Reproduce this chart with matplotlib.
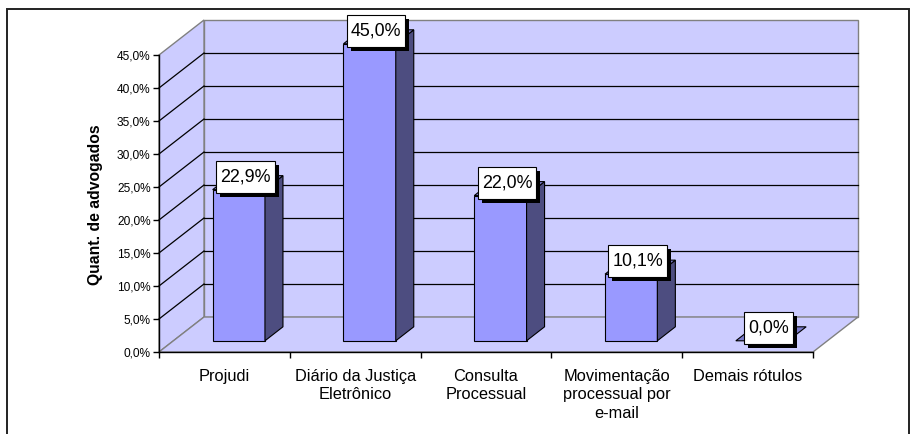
#!/usr/bin/env python3
"""
3D-style bar chart: quant. de advogados por serviço
"""
import matplotlib
matplotlib.use('Agg')
import matplotlib.pyplot as plt
import matplotlib.patches as mpatches
import matplotlib.transforms as mtransforms
import numpy as np

categories = ['Projudi', 'Diário da Justiça\nEletrônico', 'Consulta\nProcessual',
              'Movimentação\nprocessual por\ne-mail', 'Demais rótulos']
values = [22.9, 45.0, 22.0, 10.1, 0.0]
value_labels = ['22,9%', '45,0%', '22,0%', '10,1%', '0,0%']
y_ticks = [0, 5, 10, 15, 20, 25, 30, 35, 40, 45]
y_tick_labels = ['0,0%', '5,0%', '10,0%', '15,0%', '20,0%', '25,0%',
                 '30,0%', '35,0%', '40,0%', '45,0%']
y_title = 'Quant. de advogados'

W, H = 913, 434
DX, DY = 45.0, 35.0          # depth offset in pixels
BAR_D0, BAR_D1 = 0.32, 0.72  # bar depth span
WALL = '#CCCCFF'
EDGE = '#808080'
IDT = mtransforms.IdentityTransform()

plt.rcParams['font.family'] = ['Liberation Sans', 'DejaVu Sans']

fig = plt.figure(figsize=(W / 100, H / 100), dpi=100)
ax = fig.add_axes([159 / W, 82 / H, 654 / W, 297 / H])
ax.set_xlim(0, len(categories))
ax.set_ylim(0, 45)
ax.patch.set_visible(False)
for s in ['top', 'right']:
    ax.spines[s].set_visible(False)
for s in ['left', 'bottom']:
    ax.spines[s].set_color('black')
    ax.spines[s].set_linewidth(1)
    ax.spines[s].set_zorder(4)


def proj(x, y, d):
    px, py = ax.transData.transform((x, y))
    return (px + d * DX, py + d * DY)


def poly(pts, **kw):
    p = mpatches.Polygon(pts, closed=True, clip_on=False, **kw)
    p.set_transform(IDT)
    ax.add_patch(p)
    return p


def line(p1, p2, **kw):
    ln = plt.Line2D([p1[0], p2[0]], [p1[1], p2[1]], clip_on=False, **kw)
    ln.set_transform(IDT)
    ax.add_line(ln)


n = len(categories)
ymax = y_ticks[-1]

# walls and floor
poly([proj(0, 0, 1), proj(n, 0, 1), proj(n, ymax, 1), proj(0, ymax, 1)],
     facecolor=WALL, edgecolor=EDGE, lw=1, zorder=1)
poly([proj(0, 0, 0), proj(0, 0, 1), proj(0, ymax, 1), proj(0, ymax, 0)],
     facecolor=WALL, edgecolor=EDGE, lw=1, zorder=1)
poly([proj(0, 0, 0), proj(n, 0, 0), proj(n, 0, 1), proj(0, 0, 1)],
     facecolor=WALL, edgecolor=EDGE, lw=1, zorder=1)

# gridlines
for t in y_ticks[1:-1]:
    line(proj(0, t, 1), proj(n, t, 1), color='black', lw=0.9, zorder=1.5)
    line(proj(0, t, 0), proj(0, t, 1), color='black', lw=0.9, zorder=1.5)

# bars
for i, v in enumerate(values):
    x0, x1 = i + 0.3, i + 0.7
    if v > 0:
        poly([proj(x0, 0, BAR_D0), proj(x1, 0, BAR_D0), proj(x1, v, BAR_D0), proj(x0, v, BAR_D0)],
             facecolor='#9999FF', edgecolor='black', lw=0.8, zorder=3)
        poly([proj(x1, 0, BAR_D0), proj(x1, 0, BAR_D1), proj(x1, v, BAR_D1), proj(x1, v, BAR_D0)],
             facecolor='#4D4D80', edgecolor='black', lw=0.8, zorder=3)
    poly([proj(x0, v, BAR_D0), proj(x1, v, BAR_D0), proj(x1, v, BAR_D1), proj(x0, v, BAR_D1)],
         facecolor='#7B7BCC', edgecolor='black', lw=0.8, zorder=3)

# value labels: white box with black drop shadow
renderer = fig.canvas.get_renderer()
for i, (v, lab) in enumerate(zip(values, value_labels)):
    fx, fy = proj(i + 0.5, v, BAR_D0)
    cx, cy = fx + 6.5, fy + 13
    txt = ax.text(cx, cy, lab, transform=IDT, ha='center', va='center',
                  fontsize=12.9, zorder=7, clip_on=False)
    tw = txt.get_window_extent(renderer).width
    bw, bh = tw + 8, 32
    shadow = mpatches.Rectangle((cx - bw / 2 + 4, cy - bh / 2 - 4), bw, bh,
                                facecolor='black', edgecolor='none', clip_on=False, zorder=5)
    shadow.set_transform(IDT)
    ax.add_patch(shadow)
    box = mpatches.Rectangle((cx - bw / 2, cy - bh / 2), bw, bh,
                             facecolor='white', edgecolor='black', lw=0.8, clip_on=False, zorder=6)
    box.set_transform(IDT)
    ax.add_patch(box)

# axes ticks
ax.set_yticks(y_ticks)
ax.set_yticklabels(y_tick_labels, fontsize=8.6)
ax.tick_params(axis='y', length=4, width=1, pad=2)
ax.set_xticks(range(n + 1))
ax.set_xticklabels([])
ax.tick_params(axis='x', which='major', length=4.5, width=1)
ax.set_xticks(np.arange(n) + 0.5, minor=True)
ax.set_xticklabels(categories, minor=True, fontsize=11.8, linespacing=1.3)
ax.tick_params(axis='x', which='minor', length=0, pad=12)

fig.text(95 / W, 1 - 205 / H, y_title, rotation=90, ha='center', va='center',
         fontsize=11.3, fontweight='bold')

# outer frame
frame = mpatches.Rectangle((7 / W, -0.1), 902 / W, 1.1 - 9 / H, transform=fig.transFigure,
                           fill=False, ec='#222222', lw=1.4)
fig.patches.append(frame)

fig.savefig('out.png', dpi=100)
